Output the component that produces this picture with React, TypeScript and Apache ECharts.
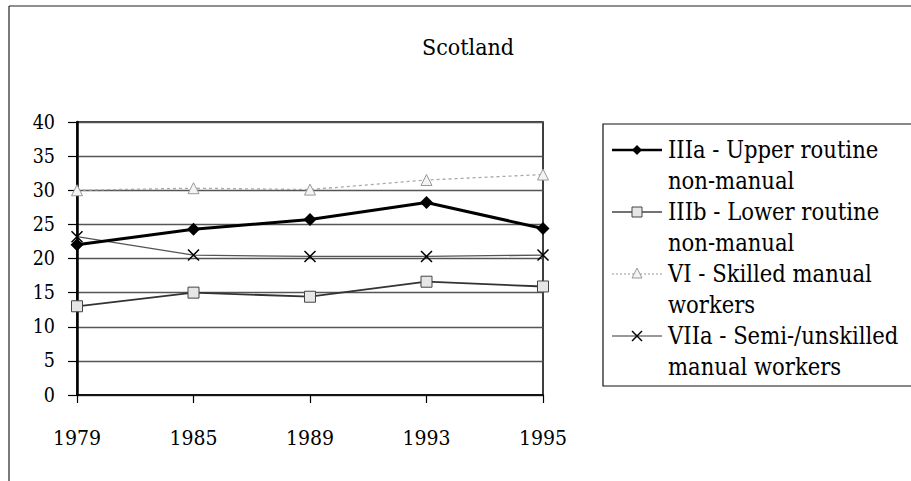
import React, { useEffect, useRef } from "react";
import * as echarts from "echarts";

const years = ["1979", "1985", "1989", "1993", "1995"];
const upperRoutine = [22.0, 24.3, 25.7, 28.2, 24.4];
const lowerRoutine = [13.0, 15.0, 14.4, 16.6, 15.9];
const skilledManual = [30.0, 30.3, 30.1, 31.5, 32.3];
const semiUnskilled = [23.2, 20.5, 20.3, 20.3, 20.5];
const seriesNames = [
  "IIIa - Upper routine non-manual",
  "IIIb - Lower routine non-manual",
  "VI - Skilled manual workers",
  "VIIa - Semi-/unskilled manual workers",
];
const legendLines = [
  ["IIIa - Upper routine", "non-manual"],
  ["IIIb - Lower routine", "non-manual"],
  ["VI - Skilled manual", "workers"],
  ["VIIa - Semi-/unskilled", "manual workers"],
];
const titleText = "Scotland";

const FONT = "DejaVu Serif Condensed";
const X_MARK = "path://M0,0L10,10M10,0L0,10";

export default function App() {
  const ref = useRef<HTMLDivElement>(null);
  useEffect(() => {
    if (!ref.current) return;
    const chart = echarts.init(ref.current, null, { renderer: "svg" });

    const legX0 = 603;
    const lineX1 = 612;
    const lineX2 = 662;
    const markX = 637;
    const textX = 668;
    const firstY = 150;
    const lineH = 31;
    const legendGraphics: any[] = [
      {
        type: "rect",
        shape: { x: legX0, y: 124, width: 330, height: 262 },
        style: { fill: "none", stroke: "#111", lineWidth: 1.2 },
      },
      {
        type: "line",
        shape: { x1: 9, y1: 6, x2: 911, y2: 6 },
        style: { stroke: "#222", lineWidth: 1.2 },
      },
      {
        type: "line",
        shape: { x1: 9, y1: 6, x2: 9, y2: 481 },
        style: { stroke: "#222", lineWidth: 1.2 },
      },
    ];
    const lineStyles = [
      { stroke: "#000", lineWidth: 2.5 },
      { stroke: "#444", lineWidth: 1.5 },
      { stroke: "#999", lineWidth: 1.2, lineDash: [2, 2] },
      { stroke: "#333", lineWidth: 1.2 },
    ];
    legendLines.forEach((lines, i) => {
      const y = firstY + i * 2 * lineH;
      legendGraphics.push({
        type: "line",
        shape: { x1: lineX1, y1: y, x2: lineX2, y2: y },
        style: lineStyles[i],
      });
      if (i === 0) {
        legendGraphics.push({
          type: "polygon",
          shape: { points: [[markX, y - 5], [markX + 5, y], [markX, y + 5], [markX - 5, y]] },
          style: { fill: "#000" },
        });
      } else if (i === 1) {
        legendGraphics.push({
          type: "rect",
          shape: { x: markX - 5, y: y - 5, width: 10, height: 10 },
          style: { fill: "#e6e6e6", stroke: "#444", lineWidth: 1 },
        });
      } else if (i === 2) {
        legendGraphics.push({
          type: "polygon",
          shape: { points: [[markX, y - 6], [markX + 5, y + 4], [markX - 5, y + 4]] },
          style: { fill: "#f4f4f4", stroke: "#999", lineWidth: 1 },
        });
      } else {
        legendGraphics.push({
          type: "line",
          shape: { x1: markX - 5, y1: y - 5, x2: markX + 5, y2: y + 5 },
          style: { stroke: "#000", lineWidth: 1.4 },
        });
        legendGraphics.push({
          type: "line",
          shape: { x1: markX + 5, y1: y - 5, x2: markX - 5, y2: y + 5 },
          style: { stroke: "#000", lineWidth: 1.4 },
        });
      }
      lines.forEach((t, j) => {
        legendGraphics.push({
          type: "text",
          x: textX,
          y: y + j * lineH,
          style: {
            text: t,
            fill: "#000",
            fontFamily: FONT,
            fontSize: 23.5,
            verticalAlign: "middle",
          },
        });
      });
    });

    chart.setOption({
      animation: false,
      backgroundColor: "#fff",
      title: {
        text: titleText,
        left: 463,
        top: 30,
        textAlign: "center",
        textStyle: { fontFamily: FONT, fontSize: 23, fontWeight: "normal", color: "#000" },
      },
      grid: {
        left: 77,
        right: 368,
        top: 122,
        bottom: 86,
        show: true,
        borderColor: "#000",
        borderWidth: 1.5,
        backgroundColor: "transparent",
      },
      xAxis: {
        type: "category",
        data: years,
        boundaryGap: false,
        axisLine: { lineStyle: { color: "#000", width: 1.5 } },
        axisTick: { show: true, length: 8, lineStyle: { color: "#000", width: 1.2 } },
        axisLabel: { color: "#000", fontFamily: FONT, fontSize: 21, margin: 32 },
        splitLine: { show: false },
      },
      yAxis: {
        type: "value",
        min: 0,
        max: 40,
        interval: 5,
        axisLine: { show: true, lineStyle: { color: "#000", width: 2.5 } },
        axisTick: { show: true, length: 9, lineStyle: { color: "#000", width: 1.2 } },
        axisLabel: { color: "#000", fontFamily: FONT, fontSize: 19.5, margin: 22 },
        splitLine: { show: true, lineStyle: { color: "#555", width: 1.3 } },
      },
      series: [
        {
          name: seriesNames[2],
          type: "line",
          data: skilledManual,
          symbol: "triangle",
          symbolSize: 11,
          lineStyle: { color: "#a8a8a8", width: 1.3, type: [3, 3] },
          itemStyle: { color: "#f4f4f4", borderColor: "#999", borderWidth: 1 },
          z: 2,
        },
        {
          name: seriesNames[3],
          type: "line",
          data: semiUnskilled,
          symbol: X_MARK,
          symbolSize: 11,
          lineStyle: { color: "#555", width: 1.3 },
          itemStyle: { color: "#000", borderColor: "#000", borderWidth: 1.5 },
          z: 3,
        },
        {
          name: seriesNames[1],
          type: "line",
          data: lowerRoutine,
          symbol: "rect",
          symbolSize: 11,
          lineStyle: { color: "#333", width: 1.8 },
          itemStyle: { color: "#e6e6e6", borderColor: "#444", borderWidth: 1 },
          z: 4,
        },
        {
          name: seriesNames[0],
          type: "line",
          data: upperRoutine,
          symbol: "diamond",
          symbolSize: 13,
          lineStyle: { color: "#000", width: 3 },
          itemStyle: { color: "#000" },
          z: 5,
        },
      ],
      graphic: legendGraphics,
    });
    return () => chart.dispose();
  }, []);
  return <div ref={ref} style={{ width: 911, height: 481, position: "absolute", left: 0, top: 0 }} />;
}
